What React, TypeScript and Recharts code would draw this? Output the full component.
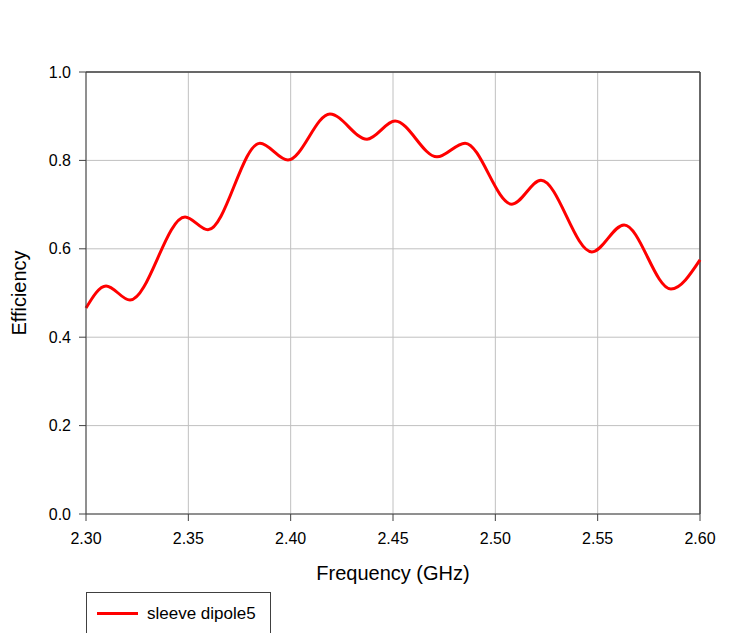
import React from 'react';
import {
  LineChart,
  Line,
  XAxis,
  YAxis,
  CartesianGrid,
  Legend,
  ReferenceLine,
} from 'recharts';

// frequency (GHz) and efficiency at the turning points
const freqs = [
  2.3, 2.3098, 2.3215, 2.3484, 2.3596, 2.385, 2.3987, 2.4192, 2.4373, 2.451,
  2.4715, 2.4852, 2.5081, 2.5223, 2.5472, 2.5629, 2.5858, 2.6,
];
const efficiency = [
  0.466, 0.516, 0.484, 0.672, 0.643, 0.839, 0.801, 0.905, 0.848, 0.889, 0.808,
  0.839, 0.701, 0.755, 0.593, 0.654, 0.509, 0.575,
];
const xTicks = [2.3, 2.35, 2.4, 2.45, 2.5, 2.55, 2.6];
const yTicks = [0, 0.2, 0.4, 0.6, 0.8, 1.0];
const seriesName = 'sleeve dipole5';

const data = freqs.map((f, i) => ({ freq: f, eff: efficiency[i] }));

const FONT = '"Liberation Sans", Arial, sans-serif';
const tickStyle = { fontSize: 16, fill: '#000', fontFamily: FONT };

function LegendBox() {
  return (
    <div
      style={{
        border: '1px solid #404040',
        width: 185,
        height: 50,
        boxSizing: 'border-box',
        position: 'relative',
        fontFamily: FONT,
        fontSize: 17,
        lineHeight: 'normal',
        background: '#fff',
      }}
    >
      <div
        style={{
          position: 'absolute',
          left: 10,
          top: 19,
          width: 41,
          height: 3,
          background: '#ff0000',
        }}
      />
      <span style={{ position: 'absolute', left: 60, top: 11, color: '#000', whiteSpace: 'nowrap' }}>
        {seriesName}
      </span>
    </div>
  );
}

export default function App() {
  return (
    <div
      style={{
        position: 'absolute',
        left: 0,
        top: 0,
        width: 752,
        height: 633,
        background: '#fff',
        overflow: 'hidden',
      }}
    >
      <LineChart
        width={752}
        height={633}
        data={data}
        margin={{ top: 72, right: 52, bottom: 0, left: 0 }}
      >
        <CartesianGrid stroke="#c0c0c0" strokeWidth={1} />
        <XAxis
          dataKey="freq"
          type="number"
          domain={[2.3, 2.6]}
          ticks={xTicks}
          tickFormatter={(v: number) => v.toFixed(2)}
          tick={tickStyle}
          tickSize={7}
          tickMargin={12}
          stroke="#404040"
          height={119}
          label={{
            value: 'Frequency (GHz)',
            position: 'insideTop',
            offset: 52,
            style: { fontSize: 20, fill: '#000', fontFamily: FONT },
          }}
        />
        <YAxis
          type="number"
          domain={[0, 1]}
          ticks={yTicks}
          tickFormatter={(v: number) => v.toFixed(1)}
          tick={tickStyle}
          tickSize={7}
          tickMargin={8}
          stroke="#404040"
          width={86}
          label={{
            value: 'Efficiency',
            angle: -90,
            position: 'insideLeft',
            offset: 19,
            style: { fontSize: 20, fill: '#000', fontFamily: FONT, textAnchor: 'middle' },
          }}
        />
        <ReferenceLine y={1} stroke="#404040" strokeWidth={1.5} />
        <ReferenceLine x={2.6} stroke="#404040" strokeWidth={1.5} />
        <Line
          type="monotone"
          dataKey="eff"
          name={seriesName}
          stroke="#ff0000"
          strokeWidth={3}
          dot={false}
          isAnimationActive={false}
        />
        <Legend
          layout="vertical"
          align="center"
          verticalAlign="middle"
          content={() => <LegendBox />}
          wrapperStyle={{ position: 'absolute', left: 86, top: 592, width: 185 }}
        />
      </LineChart>
    </div>
  );
}
